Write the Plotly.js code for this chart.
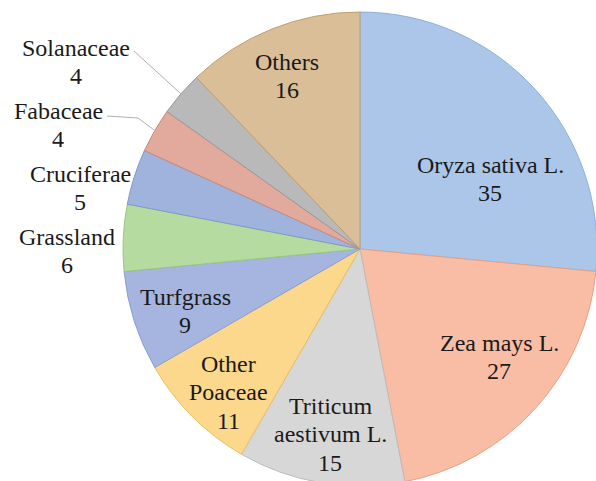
<!DOCTYPE html>
<html>
<head>
<meta charset="utf-8">
<script src="https://cdn.plot.ly/plotly-3.0.1.min.js"></script>
<style>
html, body { margin: 0; padding: 0; overflow: hidden; background: #fff; }
#chart { width: 600px; height: 500px; }
</style>
</head>
<body>
<div id="chart"></div>
<script>
// ---- data ----
const categories = ['Oryza sativa L.', 'Zea mays L.', 'Triticum<br>aestivum L.', 'Other<br>Poaceae', 'Turfgrass',
                    'Grassland', 'Cruciferae', 'Fabaceae', 'Solanaceae', 'Others'];
const counts = [35, 27, 15, 11, 9, 6, 5, 4, 4, 16];

// ---- styles ----
const sliceColors = ['#abc6e8', '#f8bda4', '#d7d7d7', '#fbd88c', '#a5b5e0',
                     '#b5dba1', '#9fb3dc', '#e2a99d', '#b9b9b9', '#d9be98'];
const edgeColors = ['#8fb0dc', '#e8a080', '#bdbdbd', '#e8c060', '#8c9fd2',
                    '#98c882', '#8299c8', '#c98a7c', '#9a9a9a', '#c0a070'];

// layout geometry (pixels in a 600x500 canvas)
const W = 600, H = 500;
const CX = 360, CY = 249, R = 237;
// label block centres (pixels), one per category
const labelCenters = [[490, 179], [499, 357], [330, 434], [228, 392], [185, 311],
                      [67, 251], [80, 188], [58, 125], [76, 62], [287, 76]];
// leader line start points (pixels) for labels that need one, keyed by index
const leaderStarts = { 7: [[107, 116], [138, 118]], 8: [[134, 51]] };
const LINE_PITCH = 28.5;
const FONT = { family: 'Liberation Serif', size: 24, color: '#1a1a1a' };

const px = x => x / W;
const py = y => 1 - y / H;

const trace = {
  type: 'pie',
  labels: categories,
  values: counts,
  sort: false,
  direction: 'clockwise',
  rotation: 0,
  textinfo: 'none',
  marker: { colors: sliceColors, line: { color: edgeColors, width: 1 } },
  domain: { x: [px(CX - R), px(CX + R)], y: [py(CY + R), py(CY - R)] },
  hoverinfo: 'none',
  automargin: false
};

// annotations: one per text line
const annotations = [];
const total = counts.reduce((a, b) => a + b, 0);
categories.forEach((cat, i) => {
  const lines = cat.split('<br>').concat([String(counts[i])]);
  const [cx, cy] = labelCenters[i];
  const n = lines.length;
  lines.forEach((t, j) => {
    annotations.push({
      text: t, xref: 'paper', yref: 'paper',
      x: px(cx), y: py(cy + (j - (n - 1) / 2) * LINE_PITCH),
      xanchor: 'center', yanchor: 'middle', showarrow: false, font: FONT
    });
  });
});

// leader lines: end at the pie rim at the slice mid-angle computed from the data
const shapes = [];
let cum = 0;
const midAngles = counts.map(v => { const m = (cum + v / 2) / total * 2 * Math.PI; cum += v; return m; });
Object.keys(leaderStarts).forEach(k => {
  const i = +k;
  const a = midAngles[i];
  const end = [CX + R * Math.sin(a), CY - R * Math.cos(a)];
  const pts = leaderStarts[k].concat([end]);
  const path = pts.map((p, j) => (j ? 'L' : 'M') + px(p[0]) + ',' + py(p[1])).join(' ');
  shapes.push({ type: 'path', xref: 'paper', yref: 'paper', path: path,
                line: { color: '#b0b0b0', width: 1 } });
});

const layout = {
  width: W,
  height: H,
  margin: { l: 0, r: 0, t: 0, b: 0 },
  showlegend: false,
  paper_bgcolor: '#ffffff',
  annotations: annotations,
  shapes: shapes
};

Plotly.newPlot('chart', [trace], layout, { staticPlot: true, displayModeBar: false });
</script>
</body>
</html>
